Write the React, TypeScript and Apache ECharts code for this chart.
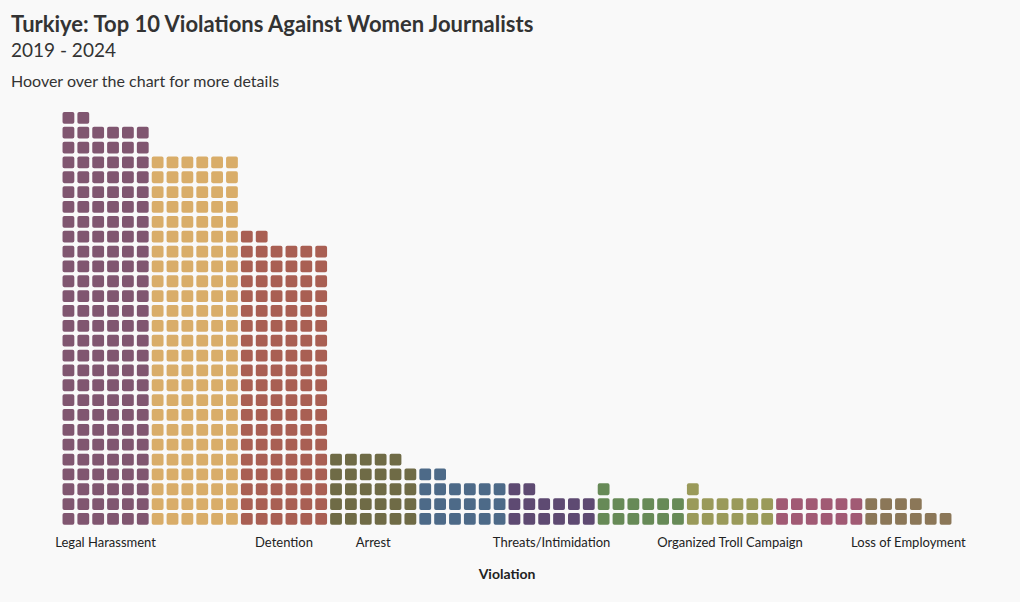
import React, { useEffect, useRef } from "react";
import * as echarts from "echarts";

const categories = [
  "Legal Harassment",
  "Criminal Investigation",
  "Detention",
  "Arrest",
  "Physical Assault",
  "Threats/Intimidation",
  "Online Harassment",
  "Organized Troll Campaign",
  "Verbal Attack",
  "Loss of Employment",
];
const counts = [164, 150, 116, 29, 20, 14, 13, 13, 12, 10];
const colors = [
  "#805670",
  "#d9ad69",
  "#a95f53",
  "#6f6b46",
  "#4d6a88",
  "#5e4a72",
  "#678a57",
  "#9a9a5a",
  "#a15a74",
  "#8b7758",
];
const shownLabels = [0, 2, 3, 5, 7, 9];
const perRow = 6;
const rows = 28;

const FONT = "Lato, 'Noto Sans', sans-serif";

export default function App() {
  const ref = useRef<HTMLDivElement>(null);
  useEffect(() => {
    document.body.style.margin = "0";
    if (!ref.current) return;
    const chart = echarts.init(ref.current, null, { renderer: "svg" });
    const series: any[] = categories.map((name, ci) => {
      const pts: any[] = [];
      for (let k = 0; k < counts[ci]; k++) {
        pts.push([ci * perRow + (k % perRow), Math.floor(k / perRow), counts[ci]]);
      }
      return {
        type: "custom",
        name,
        xAxisIndex: 1,
        yAxisIndex: 0,
        itemStyle: { color: colors[ci] },
        renderItem: (params: any, api: any) => {
          const c = api.coord([api.value(0), api.value(1)]);
          const s = 11.8;
          return {
            type: "rect",
            shape: { x: c[0] - s / 2, y: c[1] - s / 2, width: s, height: s, r: 1.8 },
            style: { fill: colors[ci] },
          };
        },
        encode: { x: 0, y: 1 },
        data: pts,
      };
    });
    chart.setOption({
      animation: false,
      backgroundColor: "#f9f9f9",
      textStyle: { fontFamily: FONT },
      title: [
        {
          text: "Turkiye: Top 10 Violations Against Women Journalists",
          left: 11,
          top: 12,
          padding: 0,
          textStyle: { fontSize: 22, fontWeight: "bold", color: "#333", fontFamily: FONT },
        },
        {
          text: "2019 - 2024",
          left: 11,
          top: 40,
          padding: 0,
          textStyle: { fontSize: 19, fontWeight: "normal", color: "#333", fontFamily: FONT },
        },
        {
          text: "Hoover over the chart for more details",
          left: 11,
          top: 72,
          padding: 0,
          textStyle: { fontSize: 16, fontWeight: "normal", color: "#333", fontFamily: FONT },
        },
      ],
      tooltip: { trigger: "item" },
      grid: { left: 61, width: 892, top: 110.4, height: 416, containLabel: false },
      xAxis: [
        {
          type: "category",
          data: categories,
          boundaryGap: true,
          axisLine: { show: false },
          axisTick: { show: false },
          axisLabel: {
            interval: (i: number) => shownLabels.includes(i),
            color: "#222",
            fontSize: 13,
            margin: 9,
            fontFamily: FONT,
          },
          name: "Violation",
          nameLocation: "middle",
          nameGap: 40,
          nameTextStyle: { fontSize: 14, fontWeight: "bold", color: "#222", fontFamily: FONT },
        },
        {
          type: "value",
          min: -0.5,
          max: categories.length * perRow - 0.5,
          show: false,
        },
      ],
      yAxis: [
        {
          type: "value",
          min: -0.5,
          max: rows - 0.5,
          show: false,
        },
      ],
      series,
    });
    return () => chart.dispose();
  }, []);
  return <div ref={ref} style={{ width: 1020, height: 602 }} />;
}
